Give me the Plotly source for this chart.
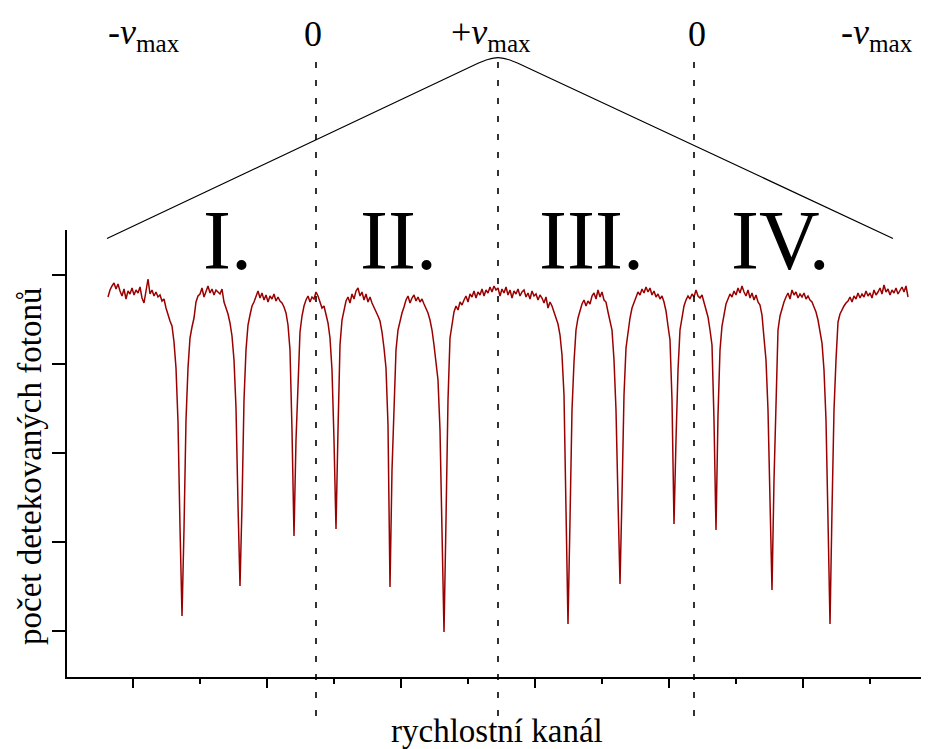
import plotly.graph_objects as go

# ---------------- data ----------------
# detected photon counts (arbitrary units) per velocity channel
counts = [
    978, 985, 989, 992, 986, 991, 984, 979, 986, 976, 984, 981, 987, 980, 985, 982, 988, 977, 972, 985,
    996, 981, 985, 979, 983, 978, 980, 974, 976,
    967, 959, 954, 949, 933, 907, 853, 748, 659, 746, 855, 907, 937, 948, 957, 973, 979,
    981, 987, 978, 984, 989, 982, 986, 980, 985, 983, 981, 986,
    973, 967, 961, 952, 939, 915, 867, 770, 689, 770, 875, 925, 950, 960, 969, 973, 979,
    984, 977, 982, 975, 980, 973, 979, 976, 981, 974, 978,
    974, 972, 968, 962, 950, 925, 845, 739, 835, 895, 943, 959, 969, 975,
    979, 973, 978, 976, 983, 979, 972, 967, 969, 959, 952, 937, 905, 835,
    746, 845, 930, 955, 966, 974,
    978, 972, 981, 976, 984, 987, 979, 983, 975, 981, 973, 978, 972,
    968, 963, 959, 954, 943, 927, 907, 850, 688, 805, 870, 925, 945, 955, 962, 968,
    975, 979, 972, 977, 980, 974, 978, 973, 976, 971,
    967, 962, 955, 945, 930, 915, 895, 845, 735, 643, 755, 875, 937, 953, 963, 969, 965, 973, 970,
    975, 979, 973, 981, 978, 984, 977, 983, 980, 986, 979, 985, 982, 988, 983, 989, 985, 987, 979, 986,
    982, 988, 980, 985, 977, 984, 981, 986, 979, 983, 985, 978, 982, 976, 984, 979, 981, 975, 980, 977,
    972, 978, 967, 973, 969, 963, 959, 951, 940, 920, 880, 770, 651, 755, 865, 913, 945, 957, 965, 971,
    975,
    969, 974, 971, 979, 982, 976, 985, 978, 983, 975, 973,
    963, 955, 945, 915, 865, 775, 691, 780, 880, 927, 945, 957, 967, 973,
    978, 983, 980, 986, 982, 988, 983, 987, 980, 984, 978, 981, 976, 979,
    973, 964, 949, 935, 875, 751, 835, 905, 945, 957, 969,
    975, 979, 976, 981, 978, 985, 979, 977, 980, 973,
    967, 958, 945, 930, 855, 745, 860, 925, 949, 962, 971,
    976, 981, 978, 984, 980, 987, 982, 989, 983, 979, 985, 977, 982, 975, 980, 973, 970,
    960, 937, 915, 865, 775, 685, 795, 883, 945, 959, 967, 973,
    978, 982, 976, 985, 980, 983, 977, 981, 978, 982, 976, 979, 975, 973,
    968, 963, 955, 945, 932, 905, 855, 755, 651, 765, 865, 915, 953, 961, 966, 969, 972,
    974, 978, 973, 979, 976, 982, 977, 981, 978, 984, 979, 982, 977, 985, 980, 983, 987, 981, 990, 983,
    986, 980, 985, 982, 987, 981, 985, 988, 983, 989, 978,
]
channels = list(range(len(counts)))

# velocity profile of the drive (triangular, -vmax ... +vmax ... -vmax)
profile_channels = [-0.5, 185, 190, 195, 200, 205, 392.5]
profile_velocity = [-1.0, 0.89, 0.93, 0.95, 0.93, 0.89, -1.0]

zero_channels = [104, 293]   # channels where velocity = 0
vmax_channel = 195           # channel of +vmax
segment_labels = ["I.", "II.", "III.", "IV."]
vmax_label = "<i>v</i><sub>max</sub>"

x_title = "rychlostní kanál"
y_title = "počet detekovaných fotonů"

# ---------------- layout geometry ----------------
W, H = 928, 749
PL, PR, PT, PB = 67, 921, 230, 677      # main plot box (px)
PAPER_TOP = 20
PH = PB - PAPER_TOP


def py(px):
    return (PB - px) / PH


FONT = "Liberation Serif"
RED = "#990000"

fig = go.Figure()
fig.add_trace(go.Scatter(
    x=channels, y=counts, mode="lines",
    line=dict(color=RED, width=1.5), xaxis="x", yaxis="y",
    showlegend=False, hoverinfo="skip"))
fig.add_trace(go.Scatter(
    x=profile_channels, y=profile_velocity, mode="lines",
    line=dict(color="black", width=1.2, shape="spline", smoothing=0.3),
    xaxis="x", yaxis="y2", showlegend=False, hoverinfo="skip"))

shapes = []
for ch in zero_channels + [vmax_channel]:
    shapes.append(dict(type="line", xref="x", yref="paper", x0=ch, x1=ch,
                       y0=py(716), y1=py(58),
                       line=dict(color="black", width=1.6, dash="6px,12px")))

ann = []
# top velocity labels
ann.append(dict(x=profile_channels[0], xshift=37, y=py(34), text="-" + vmax_label))
ann.append(dict(x=zero_channels[0], xshift=-3, y=py(34), text="0"))
ann.append(dict(x=vmax_channel, xshift=-7, y=py(34), text="+" + vmax_label))
ann.append(dict(x=zero_channels[1], xshift=3, y=py(34), text="0"))
ann.append(dict(x=profile_channels[-1], xshift=-16, y=py(34), text="-" + vmax_label))
for a in ann:
    a.update(xref="x", yref="paper", showarrow=False, xanchor="center",
             yanchor="middle", font=dict(family=FONT, size=36, color="black"))

# segment roman numerals
bounds = [profile_channels[0], zero_channels[0], vmax_channel, zero_channels[1], profile_channels[-1]]
seg_shift = [15.5, -9, -5, -13.5]
for k, lab in enumerate(segment_labels):
    mid = (bounds[k] + bounds[k + 1]) / 2
    ann.append(dict(x=mid, xshift=seg_shift[k], xref="x", y=py(240), yref="paper",
                    text=lab, showarrow=False, xanchor="center", yanchor="middle",
                    font=dict(family=FONT, size=84, color="black")))

# axis titles
ann.append(dict(x=0, xshift=30 - PL, xref="paper", y=py(467), yref="paper",
                text=y_title, textangle=-90, showarrow=False,
                xanchor="center", yanchor="middle",
                font=dict(family=FONT, size=33, color="black")))
ann.append(dict(x=(497 - PL) / (PR - PL), xref="paper", y=py(731), yref="paper",
                text=x_title, showarrow=False, xanchor="center", yanchor="middle",
                font=dict(family=FONT, size=33, color="black")))

x0_ch = (PL - 108) / 2
x1_ch = (PR - 108) / 2

fig.update_layout(
    width=W, height=H,
    margin=dict(l=PL, r=W - PR, t=PAPER_TOP, b=H - PB, pad=0),
    paper_bgcolor="white", plot_bgcolor="white",
    showlegend=False,
    shapes=shapes, annotations=ann,
    xaxis=dict(range=[x0_ch, x1_ch], domain=[0, 1], anchor="y",
               showgrid=False, zeroline=False, showline=True,
               linecolor="black", linewidth=2,
               ticks="outside", ticklen=9, tickwidth=2, tickcolor="black",
               tick0=12.5, dtick=67, showticklabels=False,
               minor=dict(ticks="outside", ticklen=5, tickwidth=2,
                          tickcolor="black", tick0=-21, dtick=33.5)),
    yaxis=dict(range=[598, 1045], domain=[0, py(PT)], anchor="x",
               showgrid=False, zeroline=False, showline=True,
               linecolor="black", linewidth=2,
               ticks="outside", ticklen=13, tickwidth=2, tickcolor="black",
               tick0=1000, dtick=89, showticklabels=False),
    yaxis2=dict(range=[-1.1, 1.1], domain=[py(247.8), py(43.7)], anchor="x",
                visible=False, showgrid=False, zeroline=False),
)

fig.write_html("out.html")
